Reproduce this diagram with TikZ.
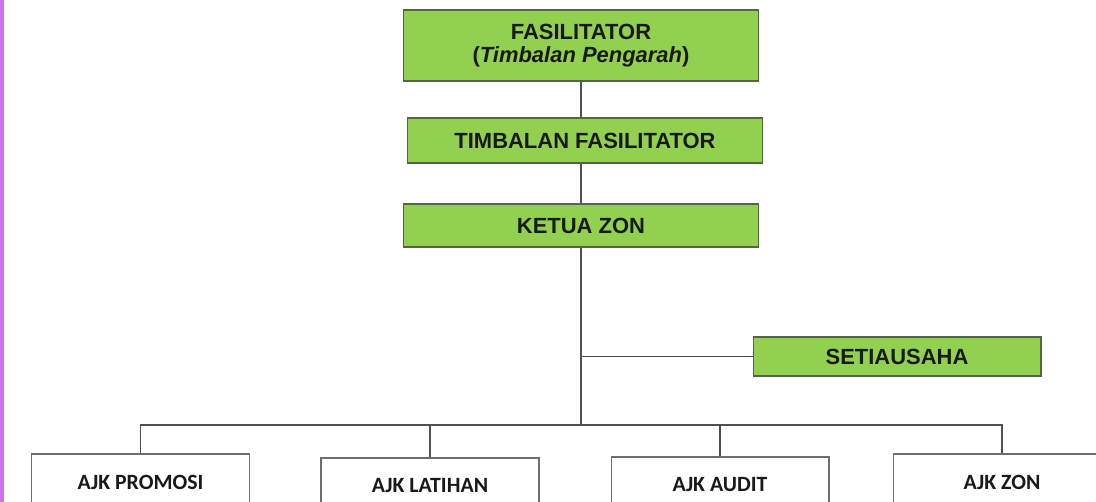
\documentclass[tikz,border=0pt]{standalone}
\usepackage{fontspec}
\setmainfont{Liberation Sans}
\newfontfamily\carlito{Carlito}
\usepackage{xcolor}
\definecolor{zon_green}{RGB}{146, 208, 80}
\definecolor{zon_edge}{RGB}{85, 100, 70}
\definecolor{zon_line}{RGB}{80, 80, 80}
\definecolor{zon_box}{RGB}{110, 110, 110}
\definecolor{zon_purple}{RGB}{200, 118, 232}
\usepackage{tikz}
\usetikzlibrary{positioning}

\tikzset{
  greenbox/.style={draw=zon_edge, line width=0.6pt, fill=zon_green, minimum width=7.12cm,
                   font=\fontsize{12.5}{13.5}\selectfont\bfseries, text=black!90, align=center},
  ajkbox/.style={draw=zon_box, line width=0.6pt, fill=white, minimum width=4.36cm, minimum height=1.12cm,
                 font=\fontsize{12.4}{14}\selectfont\carlito\bfseries, text=black!90},
  link/.style={draw=zon_line, line width=1.1pt}
}

\begin{document}
\begin{tikzpicture}[x=0.02cm, y=-0.02cm]
          \useasboundingbox[fill=white] (0,0) rectangle (1096,502);
          \fill[zon_purple] (0,0) rectangle (4,502);

          \node[greenbox, minimum height=1.42cm] (fasil)    at (581, 45.5)  {FASILITATOR\\(\textit{Timbalan Pengarah})};
          \node[greenbox, minimum height=0.90cm] (timbalan) at (585, 140.5) {TIMBALAN FASILITATOR};
          \node[greenbox, minimum height=0.86cm] (ketua)    at (581, 225.5) {KETUA ZON};
          \node[greenbox, minimum width=5.76cm, minimum height=0.78cm] (setia) at (897, 356.5) {SETIAUSAHA};

          \node[ajkbox] (promosi) at (140.5, 482) {AJK PROMOSI};
          \node[ajkbox] (latihan) at (430,   486) {AJK LATIHAN};
          \node[ajkbox] (audit)   at (720,   485) {AJK AUDIT};
          \node[ajkbox] (zon)     at (1002,  482) {AJK ZON};

          \coordinate (hub) at (581, 425);

          \draw[link] (fasil.south) -- (fasil.south |- timbalan.north);
          \draw[link] (timbalan.south -| fasil.south) -- (ketua.north);
          \draw[link] (ketua.south) -- (hub);
          \draw[link] (ketua.south |- setia.west) -- (setia.west);
          \draw[link] (promosi.north) |- (hub) -| (zon.north);
          \draw[link] (latihan.north) -- (latihan.north |- hub);
          \draw[link] (audit.north) -- (audit.north |- hub);
        \end{tikzpicture}
\end{document}
